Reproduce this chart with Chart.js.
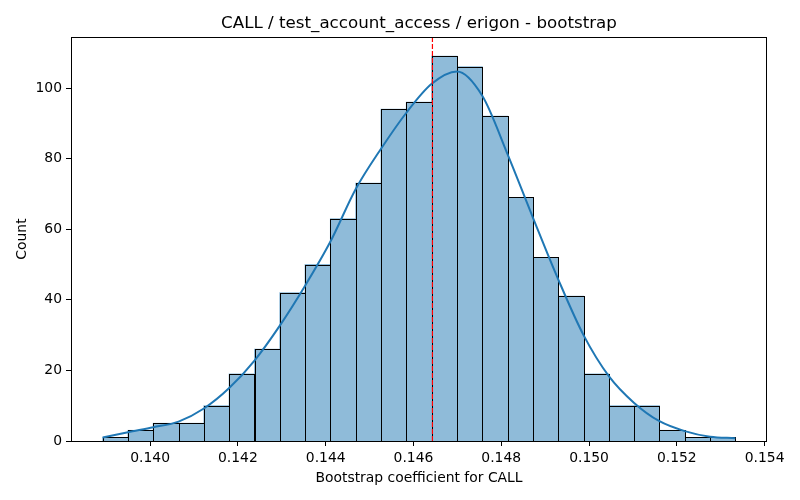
<!DOCTYPE html>
<html>
<head>
<meta charset="utf-8">
<script src="https://cdn.jsdelivr.net/npm/chart.js@4/dist/chart.umd.min.js"></script>
<style>
  html, body { margin: 0; padding: 0; background: #fff; }
  canvas { display: block; }
</style>
</head>
<body>
<canvas id="chart" width="800" height="500"></canvas>
<script>
// bin edges (25 bins)
const binEdges = [
  0.138918, 0.139495, 0.140071, 0.140648, 0.141225, 0.141801, 0.142378,
  0.142955, 0.143531, 0.144108, 0.144685, 0.145261, 0.145838, 0.146415,
  0.146991, 0.147568, 0.148145, 0.148721, 0.149298, 0.149875, 0.150451,
  0.151028, 0.151605, 0.152181, 0.152758, 0.153334
];
// counts per bin
const counts = [1, 3, 5, 5, 10, 19, 26, 42, 50, 63, 73, 94, 96, 109, 106, 92, 69, 52, 41, 19, 10, 10, 3, 1, 1];
// kde curve (scaled to counts), read at each bin edge
const kdeValues = [
  1.0, 2.5, 3.9, 5.5, 9.2, 15.0, 22.8, 32.7, 44.0, 56.5, 71.4, 82.8, 93.0,
  101.2, 104.7, 97.8, 81.2, 63.3, 45.8, 30.0, 18.4, 10.8, 5.6, 2.8, 1.2, 0.8
];
const meanValue = 0.146432;
const xTicks = [0.140, 0.142, 0.144, 0.146, 0.148, 0.150, 0.152, 0.154];
const yTicks = [0, 20, 40, 60, 80, 100];
const xRange = [0.138197, 0.154055];
const yRange = [0, 114.45];

const FONT = "'DejaVu Sans', sans-serif";

// bars sit at the middle of each bin
const barData = counts.map((c, i) => ({ x: (binEdges[i] + binEdges[i + 1]) / 2, y: c }));
const kdeData = kdeValues.map((v, i) => ({ x: binEdges[i], y: v }));

// контури стовпців по центру межі, як у matplotlib (позиції беремо з елементів Chart.js)
const barEdges = {
  id: "barEdges",
  afterDatasetDraw(chart, args) {
    if (args.index !== 0) return;
    const c = chart.ctx;
    const snap = (v) => Math.round(v) + 0.5;
    c.save();
    c.strokeStyle = "#000";
    c.lineWidth = 1;
    args.meta.data.forEach((el) => {
      const p = el.getProps(["x", "y", "base", "width"], true);
      const l = snap(p.x - p.width / 2);
      const r = snap(p.x + p.width / 2);
      const t = snap(p.y);
      const b = snap(p.base);
      c.strokeRect(l, t, r - l, b - t);
    });
    c.restore();
  },
};

// рамка навколо області графіка
const frame = {
  id: "frame",
  afterDatasetsDraw(chart) {
    const a = chart.chartArea;
    const c = chart.ctx;
    c.save();
    c.strokeStyle = "#000";
    c.lineWidth = 1;
    c.strokeRect(Math.round(a.left) + 0.5, Math.round(a.top) + 0.5,
      Math.round(a.right - a.left) - 1, Math.round(a.bottom - a.top));
    c.restore();
  },
};

new Chart(document.getElementById("chart").getContext("2d"), {
  data: {
    datasets: [
      {
        type: "bar",
        data: barData,
        backgroundColor: "#8fbbd9",
        borderWidth: 0,
        barPercentage: 1,
        categoryPercentage: 1,
        inflateAmount: 0.5,
        order: 3,
      },
      {
        type: "line",
        data: kdeData,
        borderColor: "#1f77b4",
        borderWidth: 2,
        pointRadius: 0,
        cubicInterpolationMode: "monotone",
        fill: false,
        order: 2,
      },
      {
        type: "line",
        data: [{ x: meanValue, y: yRange[0] }, { x: meanValue, y: yRange[1] }],
        borderColor: "#ff0000",
        borderWidth: 1.2,
        borderDash: [5, 2],
        pointRadius: 0,
        fill: false,
        order: 1,
      },
    ],
  },
  options: {
    responsive: false,
    animation: false,
    layout: { padding: { left: 0, right: 33, top: 0, bottom: 0 } },
    scales: {
      x: {
        type: "linear",
        min: xRange[0],
        max: xRange[1],
        offset: false,
        afterBuildTicks: (s) => { s.ticks = xTicks.map((v) => ({ value: v })); },
        afterFit: (s) => { s.height = 59; },
        grid: { display: true, drawOnChartArea: false, drawTicks: true, tickLength: 5, tickColor: "#000", offset: false },
        border: { display: false },
        ticks: {
          color: "#000",
          padding: 4,
          maxRotation: 0,
          autoSkip: false,
          font: { family: FONT, size: 13.9 },
          callback: (v) => Number(v).toFixed(3),
        },
        title: {
          display: true,
          text: "Bootstrap coefficient for CALL",
          color: "#000",
          font: { family: FONT, size: 13.9 },
          padding: { top: 4, bottom: 13 },
        },
      },
      y: {
        type: "linear",
        min: yRange[0],
        max: yRange[1],
        afterBuildTicks: (s) => { s.ticks = yTicks.map((v) => ({ value: v })); },
        afterFit: (s) => { s.width = 71; },
        grid: { display: true, drawOnChartArea: false, drawTicks: true, tickLength: 5, tickColor: "#000" },
        border: { display: false },
        ticks: {
          color: "#000",
          padding: 4,
          font: { family: FONT, size: 13.9 },
        },
        title: {
          display: true,
          text: "Count",
          color: "#000",
          font: { family: FONT, size: 13.9 },
          padding: { top: 14, bottom: 4 },
        },
      },
    },
    plugins: {
      legend: { display: false },
      tooltip: { enabled: false },
      title: {
        display: true,
        fullSize: false,
        text: "CALL / test_account_access / erigon - bootstrap",
        color: "#000",
        font: { family: FONT, size: 16.7, weight: "normal" },
        padding: { top: 14, bottom: 3 },
      },
    },
  },
  plugins: [barEdges, frame],
});
</script>
</body>
</html>
